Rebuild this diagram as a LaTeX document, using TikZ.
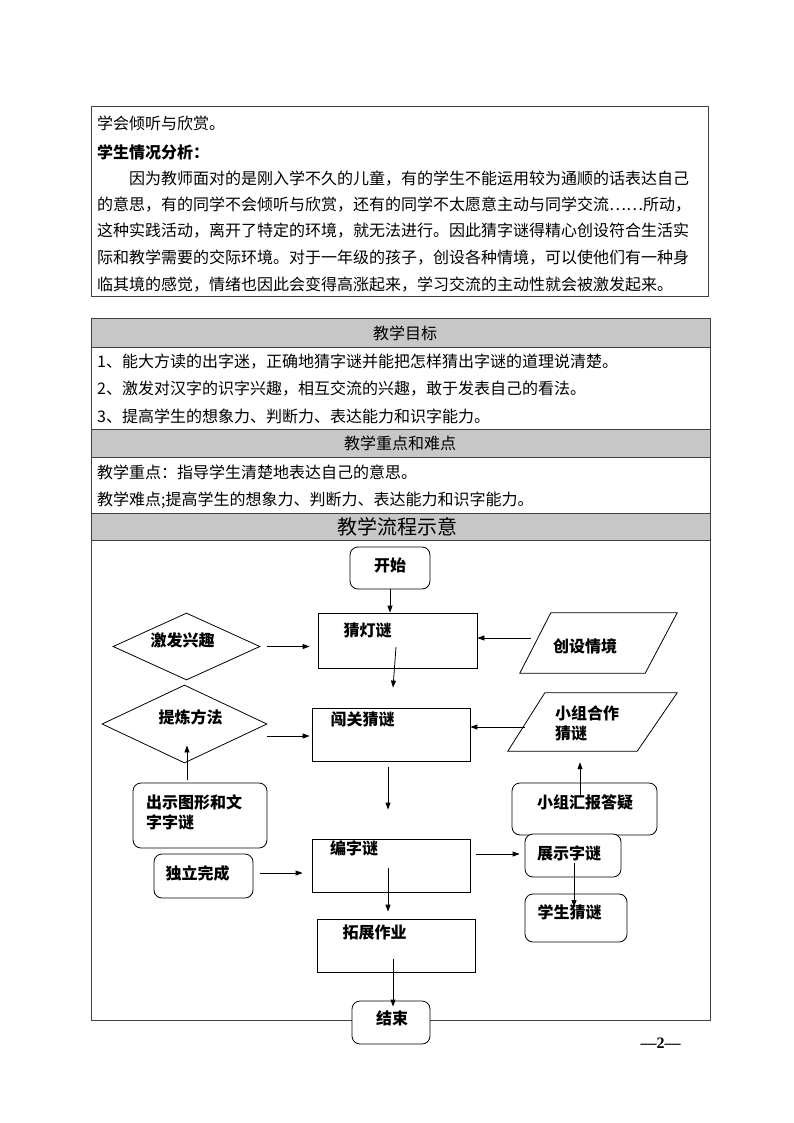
\documentclass[tikz,border=0pt]{standalone}
\usepackage{fontspec}
\setmainfont{Noto Sans CJK SC}
\newfontfamily\pagenumfont{Liberation Serif}
\usetikzlibrary{shapes.geometric,arrows.meta}

\tikzset{
  boxline/.style={draw=black!75, line width=0.8pt},
  band/.style={fill=black!22, draw=black!75, line width=0.8pt},
  bodytext/.style={anchor=west, inner sep=0pt, font=\fontsize{16pt}{20pt}\selectfont},
  headtext/.style={inner sep=0pt, font=\fontsize{16pt}{20pt}\selectfont},
  flowtext/.style={inner sep=0pt, font=\fontsize{16pt}{20pt}\selectfont\bfseries},
  procbox/.style={draw, line width=0.8pt, inner sep=0pt},
  roundbox/.style={procbox, rounded corners=8pt, fill=white},
  choicebox/.style={draw, diamond, line width=0.8pt, inner sep=0pt},
  databox/.style={inner sep=0pt},
  dataline/.style={line width=0.8pt},
  arr/.style={-{Triangle[length=7pt,width=5pt]}, line width=0.8pt},
}

\begin{document}
\begin{tikzpicture}[x=1pt, y=-1pt]

  \useasboundingbox (0,0) rectangle (794,1123);

  % analysis box
  \draw[boxline] (91,106) rectangle (708,296);
  \node[bodytext] (intro) at (97,123) {学会倾听与欣赏。};
  \node[bodytext, font=\fontsize{16pt}{20pt}\selectfont\bfseries] (studhead) at (97,152) {学生情况分析：};
  \node[bodytext] (para1) at (129,179) {因为教师面对的是刚入学不久的儿童，有的学生不能运用较为通顺的话表达自己};
  \node[bodytext] (para2) at (97,205) {的意思，有的同学不会倾听与欣赏，还有的同学不太愿意主动与同学交流……所动，};
  \node[bodytext] (para3) at (97,231) {这种实践活动，离开了特定的环境，就无法进行。因此猜字谜得精心创设符合生活实};
  \node[bodytext] (para4) at (97,258) {际和教学需要的交际环境。对于一年级的孩子，创设各种情境，可以使他们有一种身};
  \node[bodytext] (para5) at (97,285) {临其境的感觉，情绪也因此会变得高涨起来，学习交流的主动性就会被激发起来。};

  % table
  \draw[band] (91,318) rectangle (710,347);
  \draw[band] (91,429) rectangle (710,457);
  \draw[band] (91,513) rectangle (710,540);
  \draw[boxline] (91,318) rectangle (710,1020);

  \node[headtext] (goalhead) at (405,333) {教学目标};
  \node[bodytext] (goal1) at (97,362) {1、能大方读的出字迷，正确地猜字谜并能把怎样猜出字谜的道理说清楚。};
  \node[bodytext] (goal2) at (97,389) {2、激发对汉字的识字兴趣，相互交流的兴趣，敢于发表自己的看法。};
  \node[bodytext] (goal3) at (97,416) {3、提高学生的想象力、判断力、表达能力和识字能力。};
  \node[headtext] (keyhead) at (400,443) {教学重点和难点};
  \node[bodytext] (key1) at (97,472) {教学重点：指导学生清楚地表达自己的意思。};
  \node[bodytext] (key2) at (97,500) {教学难点;提高学生的想象力、判断力、表达能力和识字能力。};
  \node[headtext, font=\fontsize{20pt}{24pt}\selectfont] (flowhead) at (397,527) {教学流程示意};

  % flow chart shapes
  \node[roundbox, minimum width=80pt, minimum height=42pt] (start) at (390,568) {};
  \node[procbox, minimum width=159pt, minimum height=55pt] (guess) at (397.5,640.5) {};
  \node[choicebox, minimum width=147pt, minimum height=67pt] (spark) at (186.5,646.5) {};
  \node[databox, minimum width=157pt, minimum height=60pt] (scene) at (598.5,643) {};
  \draw[dataline] (scene.south west) -- ([xshift=-32pt]scene.south east)
    -- (scene.north east) -- ([xshift=31pt]scene.north west) -- cycle;
  \node[procbox, minimum width=158pt, minimum height=53pt] (pass) at (391,734.5) {};
  \node[choicebox, minimum width=165pt, minimum height=78pt] (method) at (184.5,724) {};
  \node[databox, minimum width=169pt, minimum height=58pt] (team) at (592.5,722) {};
  \draw[dataline] (team.south west) -- ([xshift=-40pt]team.south east)
    -- (team.north east) -- ([xshift=37pt]team.north west) -- cycle;
  \node[roundbox, minimum width=134pt, minimum height=65pt] (show) at (200,815.5) {};
  \node[roundbox, minimum width=99pt, minimum height=44pt] (solo) at (203.5,876) {};
  \node[procbox, minimum width=158pt, minimum height=53pt] (make) at (391,865.5) {};
  \node[procbox, minimum width=158pt, minimum height=53pt] (ext) at (396,945.5) {};
  \node[roundbox, minimum width=78pt, minimum height=43pt] (finish) at (391,1022.5) {};
  \node[roundbox, minimum width=145pt, minimum height=52pt] (report) at (584.5,809) {};
  \node[roundbox, minimum width=96pt, minimum height=43pt] (display) at (573,855.5) {};
  \node[roundbox, minimum width=102pt, minimum height=48pt] (ask) at (576,918) {};

  % flow chart texts
  \node[flowtext] (start-t) at (390,565) {开始};
  \node[flowtext] (guess-t) at (367.5,630) {猜灯谜};
  \node[flowtext] (spark-t) at (182.5,640) {激发兴趣};
  \node[flowtext] (scene-t) at (585,646) {创设情境};
  \node[flowtext] (method-t) at (190.5,717) {提炼方法};
  \node[flowtext] (pass-t) at (362.5,719) {闯关猜谜};
  \node[flowtext, anchor=west, align=left] (team-t) at (555,723) {小组合作\\猜谜};
  \node[flowtext, anchor=west, align=left] (show-t) at (146,812) {出示图形和文\\字字谜};
  \node[flowtext] (solo-t) at (197.5,873) {独立完成};
  \node[flowtext] (make-t) at (354,848) {编字谜};
  \node[flowtext] (ext-t) at (374.5,932) {拓展作业};
  \node[flowtext] (finish-t) at (392,1018) {结束};
  \node[flowtext] (report-t) at (585,802) {小组汇报答疑};
  \node[flowtext] (display-t) at (569,853) {展示字谜};
  \node[flowtext] (ask-t) at (569.5,912) {学生猜谜};

  % connectors
  \draw[arr] (start.south) -- (start.south |- guess.north);
  \draw[arr, shorten <=7pt, shorten >=8pt] (spark.east) -- (spark.east -| guess.west);
  \draw[arr] ([xshift=11pt,yshift=5pt]scene.west) -- ([yshift=2.5pt]guess.east);
  \draw[arr] ([xshift=-1.5pt,yshift=-6.5pt]guess.center) -- ([xshift=2pt,yshift=20pt]pass.north);
  \draw[arr, shorten >=2pt] ([yshift=-12pt]method.east) -- ([yshift=-1.5pt]pass.west);
  \draw[arr] ([xshift=17pt,yshift=-5pt]team.west) -- ([yshift=7.5pt]pass.east);
  \draw[arr] ([xshift=-13pt,yshift=3pt]show.north) -- ([xshift=2.5pt,yshift=18pt]method.south);
  \draw[arr] ([xshift=-3pt,yshift=-6pt]pass.south) -- ([xshift=-3pt,yshift=29pt]make.north);
  \draw[arr] ([xshift=7pt,yshift=3pt]solo.east) -- ([xshift=-9pt,yshift=-7.5pt]make.west);
  \draw[arr] ([xshift=-3pt,yshift=-2.5pt]make.center) -- ([xshift=-8pt,yshift=7pt]ext.north);
  \draw[arr] ([xshift=-3pt,yshift=-13.5pt]ext.center) -- ([xshift=2pt,yshift=-6pt]finish.north);
  \draw[arr] ([xshift=-4.5pt,yshift=14pt]report.center) -- ([xshift=-12.5pt,yshift=-11pt]team.south);
  \draw[arr] ([xshift=6pt,yshift=11.5pt]make.east) -- ([xshift=-5pt,yshift=1.5pt]display.west);
  \draw[arr] ([xshift=1pt,yshift=-7.5pt]display.center) -- ([xshift=-2pt,yshift=11pt]ask.center);

  % page number
  \node[inner sep=0pt, font={\fontsize{16pt}{20pt}\selectfont\pagenumfont\bfseries}] (pagenum) at (660.5,1043) {—2—};

\end{tikzpicture}
\end{document}
